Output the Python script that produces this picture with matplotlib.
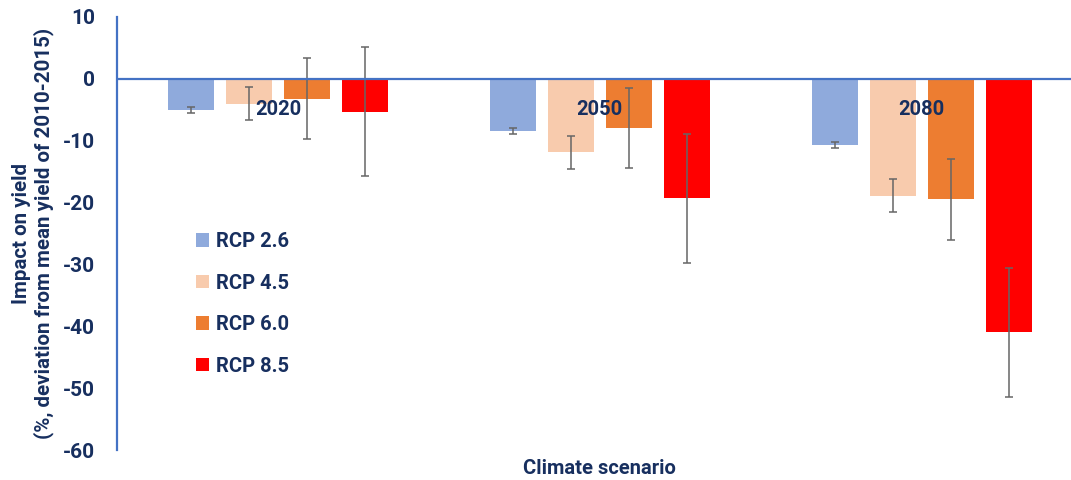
import numpy as np
import matplotlib
matplotlib.use("Agg")
import matplotlib.pyplot as plt
from matplotlib.patches import Patch

# Projected yield impacts (% deviation from 2010-2015 mean yield)
periods = ["2020", "2050", "2080"]
scenarios = ["RCP 2.6", "RCP 4.5", "RCP 6.0", "RCP 8.5"]
rcp26 = [-5.0, -8.4, -10.7]
rcp45 = [-4.0, -11.9, -18.9]
rcp60 = [-3.2, -7.9, -19.5]
rcp85 = [-5.3, -19.3, -41.0]
err26 = [0.45, 0.5, 0.5]
err45 = [2.7, 2.65, 2.7]
err60 = [6.5, 6.45, 6.5]
err85 = [10.4, 10.4, 10.45]
yticks = [10, 0, -10, -20, -30, -40, -50, -60]

colors = ["#8faadc", "#f8cbad", "#ed7d31", "#ff0000"]
navy = "#172f5f"
axis_blue = "#4472c4"

plt.rcParams["font.family"] = ["Roboto", "DejaVu Sans"]
plt.rcParams["font.weight"] = "bold"

fig = plt.figure(figsize=(10.71, 4.8), dpi=100)
ax = fig.add_axes([117 / 1071, 1 - 450 / 480, 1 - 117 / 1071, (450 - 17) / 480])

x = np.arange(len(periods))
width = 0.143
step = 0.18
values = [rcp26, rcp45, rcp60, rcp85]
errors = [err26, err45, err60, err85]
for i, (vals, errs, col) in enumerate(zip(values, errors, colors)):
    pos = x + (i - 1.5) * step
    ax.bar(pos, vals, width=width, color=col, zorder=2)
    ax.errorbar(pos, vals, yerr=errs, fmt="none", ecolor="#666666",
                elinewidth=1.1, capsize=3, capthick=1.1, zorder=3)

for xi, p in zip(x, periods):
    ax.text(xi, -4.9, p, ha="center", va="center", fontsize=14.5,
            fontweight="bold", color=navy, zorder=4)

ax.axhline(0, color=axis_blue, lw=1.6, zorder=5)
ax.set_xlim(-0.5, 2.464)
ax.set_ylim(-60, 10)
ax.set_yticks(yticks)
ax.set_yticklabels([str(t) for t in yticks])
ax.set_xticks([])
ax.tick_params(axis="y", length=0, pad=16, labelsize=15, labelcolor=navy)
for lbl in ax.get_yticklabels():
    lbl.set_fontweight("bold")
for side in ["top", "right", "bottom"]:
    ax.spines[side].set_visible(False)
ax.spines["left"].set_color(axis_blue)
ax.spines["left"].set_linewidth(1.6)

fig.text(33 / 1071, 1 - 233 / 480, "Impact on yield\n(%, deviation from mean yield of 2010-2015)",
         rotation=90, ha="center", va="center", fontsize=14.8, fontweight="bold",
         color=navy, linespacing=1.1)
fig.text(599 / 1071, 1 - 468 / 480, "Climate scenario", ha="center", va="center",
         fontsize=14.5, fontweight="bold", color=navy)

handles = [Patch(facecolor=c, edgecolor="none") for c in colors]
leg = fig.legend(handles, scenarios, loc="upper left",
                 bbox_to_anchor=(196 / 1071, 1 - 232 / 480), frameon=False,
                 fontsize=14.5, handlelength=0.65, handleheight=0.65,
                 handletextpad=0.35, labelspacing=1.12, borderpad=0, borderaxespad=0)
for t in leg.get_texts():
    t.set_color(navy)
    t.set_fontweight("bold")

fig.savefig("out.png", dpi=100)
